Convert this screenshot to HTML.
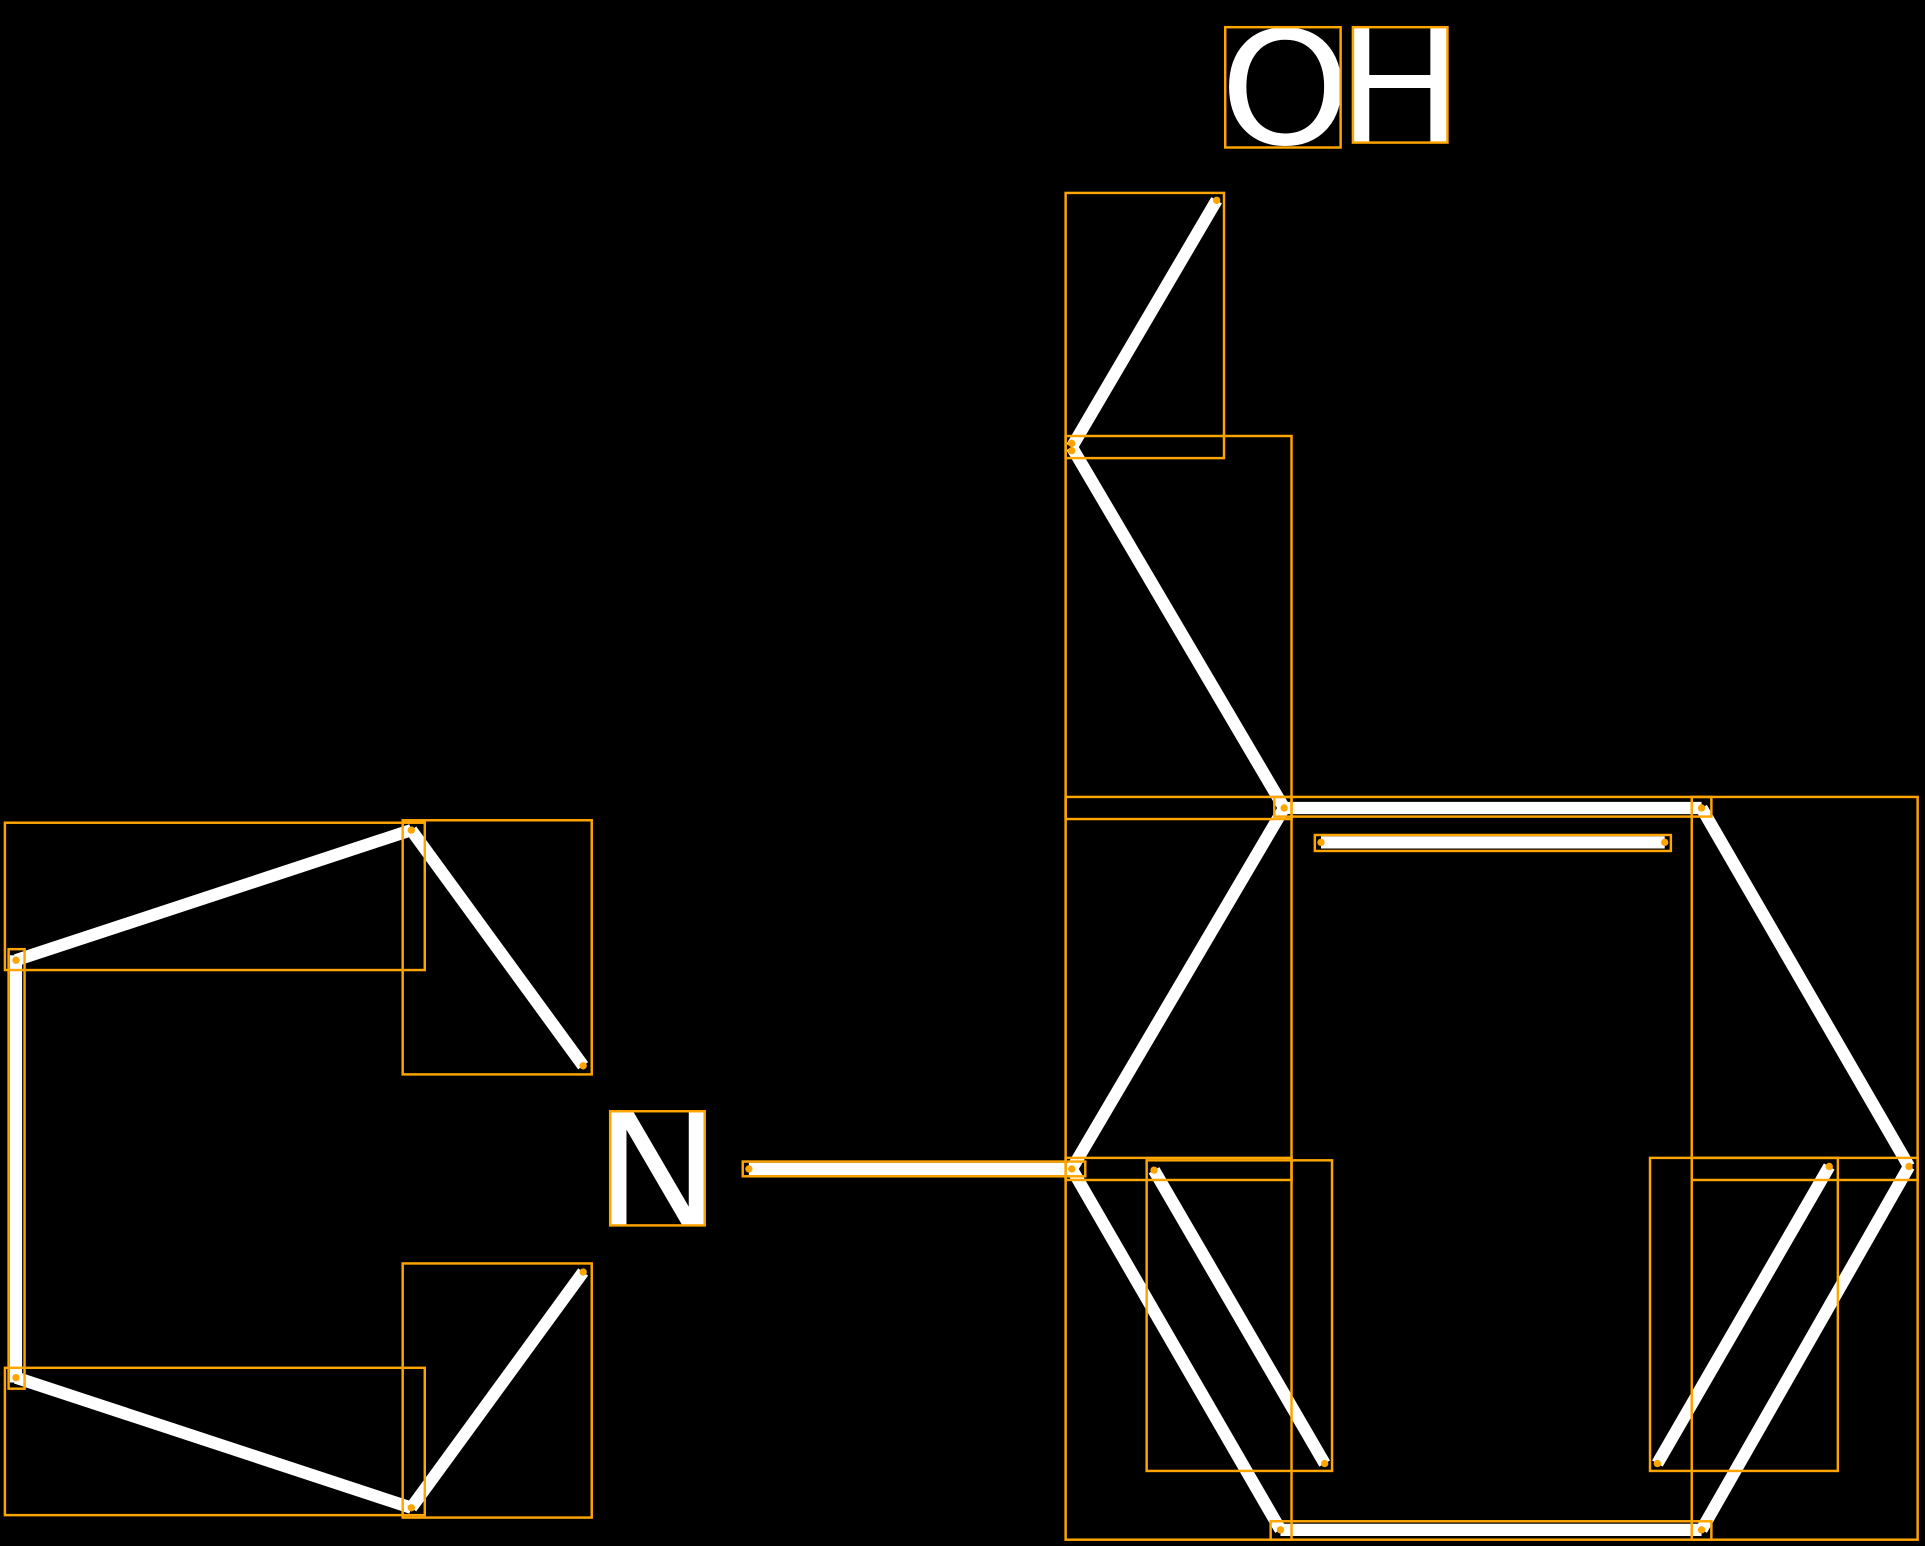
<!DOCTYPE html>
<html><head><style>html,body{margin:0;padding:0;background:#000}svg{display:block}</style></head>
<body>
<svg width="1925" height="1546" viewBox="0 0 1568 1259" xmlns="http://www.w3.org/2000/svg">
<rect width="1568" height="1259" fill="#000"/>
<g stroke="#fff" stroke-width="10" stroke-linecap="butt" fill="none">
<line x1="991" y1="163" x2="873" y2="364"/>
<line x1="873" y1="364" x2="1046" y2="658"/>
<line x1="1046" y1="658" x2="1386" y2="658"/>
<line x1="1076" y1="686" x2="1356" y2="686"/>
<line x1="1386" y1="658" x2="1555" y2="950"/>
<line x1="1555" y1="950" x2="1386" y2="1246"/>
<line x1="1386" y1="1246" x2="1043" y2="1246"/>
<line x1="1043" y1="1246" x2="873" y2="952"/>
<line x1="873" y1="952" x2="1046" y2="658"/>
<line x1="940" y1="953" x2="1079" y2="1192"/>
<line x1="1490" y1="950" x2="1350" y2="1192"/>
<line x1="873" y1="952" x2="610" y2="952"/>
<line x1="335" y1="676" x2="475" y2="868"/>
<line x1="335" y1="676" x2="13" y2="782"/>
<line x1="13" y1="778" x2="13" y2="1126"/>
<line x1="13" y1="1122" x2="335" y2="1228"/>
<line x1="335" y1="1228" x2="475" y2="1036"/>
</g>
<g font-family="'DejaVu Sans','Liberation Sans',sans-serif" fill="#fff" font-size="128">
<text transform="translate(993.5,117) scale(1.06,1)">O</text>
<text transform="translate(1088,116) scale(1.085,1)">H</text>
<text transform="translate(483,998) scale(1.1,1)">N</text>
</g>
<g stroke="#ffa500" stroke-width="2" fill="none">
<rect x="998" y="22" width="94" height="98"/>
<rect x="1102" y="22" width="77" height="94"/>
<rect x="497" y="905" width="77" height="93"/>
<rect x="868" y="157" width="129" height="216"/>
<rect x="868" y="355" width="184" height="312"/>
<rect x="868" y="649" width="184" height="312"/>
<rect x="868" y="943" width="184" height="311"/>
<rect x="1038" y="649" width="356" height="16"/>
<rect x="1071" y="680" width="290" height="13"/>
<rect x="1378" y="649" width="184" height="312"/>
<rect x="1378" y="943" width="184" height="311"/>
<rect x="1035" y="1239" width="359" height="15"/>
<rect x="934" y="945" width="151" height="253"/>
<rect x="1344" y="943" width="153" height="255"/>
<rect x="605" y="946" width="279" height="12"/>
<rect x="4" y="670" width="342" height="120"/>
<rect x="328" y="668" width="154" height="207"/>
<rect x="7" y="773" width="13" height="358"/>
<rect x="4" y="1114" width="342" height="120"/>
<rect x="328" y="1029" width="154" height="207"/>
</g>
<g fill="#ffa500">
<circle cx="991" cy="163" r="3"/><circle cx="873" cy="361" r="3"/><circle cx="873" cy="367" r="3"/>
<circle cx="1046" cy="658" r="3"/><circle cx="1386" cy="658" r="3"/><circle cx="1076" cy="686" r="3"/><circle cx="1356" cy="686" r="3"/>
<circle cx="1555" cy="950" r="3"/><circle cx="1386" cy="1246" r="3"/><circle cx="1043" cy="1246" r="3"/>
<circle cx="873" cy="952" r="3"/><circle cx="940" cy="953" r="3"/><circle cx="1079" cy="1192" r="3"/>
<circle cx="1490" cy="950" r="3"/><circle cx="1350" cy="1192" r="3"/><circle cx="610" cy="952" r="3"/>
<circle cx="335" cy="676" r="3"/><circle cx="475" cy="868" r="3"/><circle cx="13" cy="782" r="3"/>
<circle cx="13" cy="1122" r="3"/><circle cx="335" cy="1228" r="3"/><circle cx="475" cy="1036" r="3"/>
</g>
</svg>
</body></html>
